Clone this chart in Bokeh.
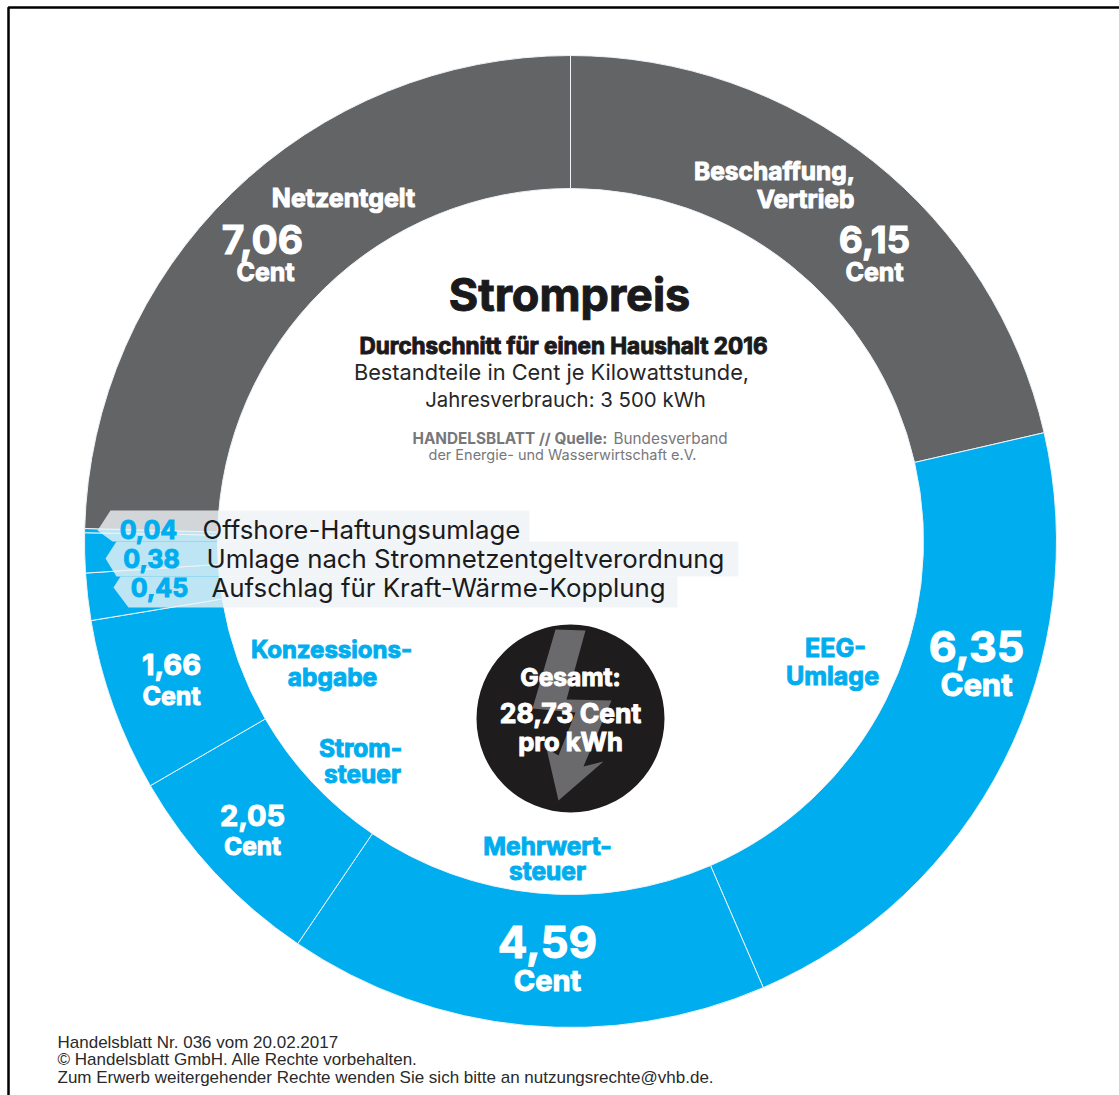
from math import pi
from bokeh.plotting import figure
from bokeh.embed import file_html
from bokeh.resources import INLINE
from bokeh.core.properties import value

# Strompreis 2016: components in cent per kWh, clockwise from twelve o'clock
components = ["Beschaffung, Vertrieb", "EEG-Umlage", "Mehrwertsteuer", "Stromsteuer",
              "Konzessionsabgabe", "Aufschlag für Kraft-Wärme-Kopplung",
              "Umlage nach Stromnetzentgeltverordnung", "Offshore-Haftungsumlage", "Netzentgelt"]
cents = [6.15, 6.35, 4.59, 2.05, 1.66, 0.45, 0.38, 0.04, 7.06]
GREY, BLUE = "#636466", "#00aeef"
colors = [GREY, BLUE, BLUE, BLUE, BLUE, BLUE, BLUE, BLUE, GREY]

W, H = 1119, 1095
CX, CY, R_OUT, R_IN = 570, 541, 486, 353
HEAD = "Inter"
FOOT = "Liberation Sans"


def Y(py):
    return H - py


def de(v):
    return f"{v:.2f}".replace(".", ",")


p = figure(width=W, height=H, x_range=(0, W), y_range=(0, H), output_backend="svg",
           toolbar_location=None, min_border=0, background_fill_color="white",
           border_fill_color="white", outline_line_color=None)
p.xaxis.visible = False
p.yaxis.visible = False
p.xgrid.visible = False
p.ygrid.visible = False


def label(x, y, txt, size, color="white", style="bold", font=HEAD, align="center", heavy=False):
    extra = {"text_outline_color": color} if heavy else {}
    p.text([x], [Y(y)], text=[txt], text_font=value(font), text_font_size=f"{size}px",
           text_font_style=style, text_color=color, text_align=align, text_baseline="middle", **extra)


# frame: left and top rules only
p.line([8, 8, W], [0, Y(7), Y(7)], line_color="black", line_width=2.5)

# ring, running clockwise from the top
total = sum(cents)
acc = 0.0
starts, ends = [], []
for c in cents:
    starts.append(pi / 2 - (acc + c) / total * 2 * pi)
    acc += c
    ends.append(pi / 2 - (acc - c) / total * 2 * pi)
p.annular_wedge([CX] * len(cents), [Y(CY)] * len(cents), R_IN, R_OUT, starts, ends,
                fill_color=colors, line_color="#eef3f7", line_width=1)

# callout strips across the ring for the three smallest components:
# component index, top, bottom, tip x, tip y, upper shoulder x, lower shoulder x, right end
strips = [(7, 510, 541, 97, 530, 110, 112, 529),
          (6, 541, 576, 105, 558, 116, 116, 738),
          (5, 576, 607, 113, 587, 120, 128, 677)]
for idx, top, bottom, tip_x, tip_y, sh_top, sh_bot, right in strips:
    p.patch([tip_x, sh_top, right, right, sh_bot], [Y(tip_y), Y(top), Y(top), Y(bottom), Y(bottom)],
            fill_color="#edf2f5", fill_alpha=0.8, line_color=None)

callouts = [(7, 148, 202, 529), (6, 151, 206, 558), (5, 159, 211, 587)]
for idx, vx, tx, ty in callouts:
    label(vx, ty, de(cents[idx]), 25, BLUE, heavy=True)
    label(tx, ty, components[idx], 25.8, "#1b1b1d", "normal", align="left")

# segment labels on the ring and their names inside it
label(343, 197, "Netzentgelt", 25, heavy=True)
label(262, 239, de(cents[8]), 39, heavy=True)
label(265, 271, "Cent", 25, heavy=True)
label(774, 170, "Beschaffung,", 24.5, heavy=True)
label(805, 198, "Vertrieb", 24.5, heavy=True)
label(874, 239, de(cents[0]), 37, heavy=True)
label(874, 271, "Cent", 25, heavy=True)
label(976, 646, de(cents[1]), 43, heavy=True)
label(976, 684, "Cent", 31, heavy=True)
label(835, 647, "EEG-", 25, BLUE, heavy=True)
label(832, 675, "Umlage", 25, BLUE, heavy=True)
label(547, 941, de(cents[2]), 44, heavy=True)
label(547, 980, "Cent", 29, heavy=True)
label(547, 845, "Mehrwert-", 24.5, BLUE, heavy=True)
label(547, 870, "steuer", 24.5, BLUE, heavy=True)
label(252, 815, de(cents[3]), 29, heavy=True)
label(252, 845, "Cent", 24.5, heavy=True)
label(360, 747, "Strom-", 24.5, BLUE, heavy=True)
label(362, 773, "steuer", 24.5, BLUE, heavy=True)
label(171, 664, de(cents[4]), 29, heavy=True)
label(171, 695, "Cent", 25, heavy=True)
label(331, 649, "Konzessions-", 24, BLUE, heavy=True)
label(332, 676, "abgabe", 24.5, BLUE, heavy=True)

# heading block
label(569, 294, "Strompreis", 45, "#1a1a1c", heavy=True)
label(563, 345, "Durchschnitt für einen Haushalt 2016", 22.5, "#1a1a1c", heavy=True)
label(551, 371, "Bestandteile in Cent je Kilowattstunde,", 21.8, "#262628", "normal")
label(565, 399, "Jahresverbrauch: 3 500 kWh", 20.4, "#262628", "normal")
label(412, 438, "HANDELSBLATT // Quelle:", 15.3, "#77787b", align="left")
label(613, 438, "Bundesverband", 15.3, "#77787b", "normal", align="left")
label(562, 454, "der Energie- und Wasserwirtschaft e.V.", 14.5, "#77787b", "normal")

# total badge with the lightning bolt behind its text
p.circle([570], [Y(718)], radius=94, fill_color="#1f1c1d", line_color=None)
bolt_x = [555, 532, 575, 558, 546, 558, 603, 583, 611, 566, 585]
bolt_y = [629, 708, 712, 755, 748, 800, 761, 766, 700, 699, 630]
p.patch(bolt_x, [Y(v) for v in bolt_y], fill_color="#6a6a6c", line_color=None)
label(570, 676, "Gesamt:", 24.5, heavy=True)
label(570, 712, f"{de(total)} Cent", 26.5, heavy=True)
label(570, 741, "pro kWh", 25.5, heavy=True)

# imprint
imprint = ["Handelsblatt Nr. 036 vom 20.02.2017",
           "© Handelsblatt GmbH. Alle Rechte vorbehalten.",
           "Zum Erwerb weitergehender Rechte wenden Sie sich bitte an nutzungsrechte@vhb.de."]
for txt, y in zip(imprint, [1042, 1059, 1077]):
    label(57, y, txt, 17, "#2a2a2a", "normal", FOOT, "left")

open("out.html", "w").write(file_html(p, INLINE))
